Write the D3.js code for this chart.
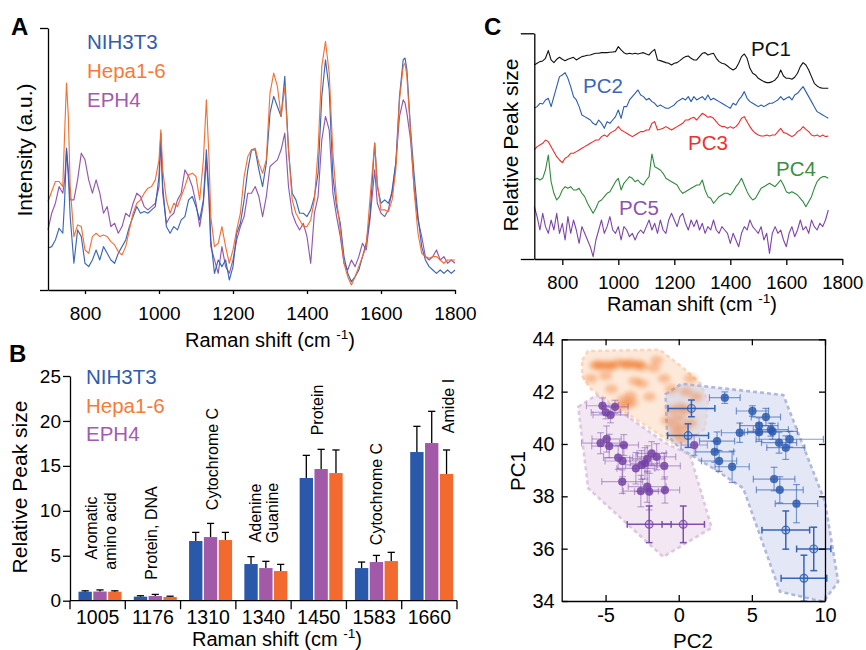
<!DOCTYPE html>
<html><head><meta charset="utf-8">
<script src="https://cdn.jsdelivr.net/npm/d3@7"></script>
<style>
body{margin:0;background:#fff;}
svg{display:block;}
</style></head><body>
<svg id="fig" width="866" height="650"></svg>
<script>
// ---------------- Panel A data (Raman spectra, a.u.) ----------------
const shiftA = [
 700,710,720,730,740,745,750,755,760,770,
 780,790,800,810,820,830,840,850,860,870,
 880,890,900,910,920,930,940,950,960,970,
 980,990,1000,1005,1010,1020,1030,1040,1050,1060,
 1070,1080,1090,1100,1110,1120,1128,1135,1140,1150,
 1160,1170,1180,1190,1200,1210,1220,1230,1240,1250,
 1260,1270,1280,1290,1300,1310,1320,1330,1340,1350,
 1360,1370,1380,1390,1400,1410,1420,1430,1440,1450,
 1460,1470,1480,1490,1500,1510,1520,1530,1540,1550,
 1560,1570,1583,1590,1600,1610,1620,1630,1640,1650,
 1660,1665,1670,1680,1690,1700,1710,1720,1730,1740,
 1750,1760,1770,1780,1790,1800];
const nih3t3A = [
 12.5,13,15,18.5,17,27,42.5,34,22,8,
 18,16,8,7,9,12,9,13,11,9,
 8,11,13,15,19,22,25,23,23.5,23,
 24,25,34,47,31,19,17,19,18,21,
 22,27,28,25,21,27,42,29,15,5,
 9,7,9,3,7,17,20,27,36,42,
 42,36,31,38,53,58,55,52,64,42,
 29,27,23,23,22,24,28,35,58,69,
 60,34,25,20,10,5,2.5,4,6,10,
 14,22,44,31,26,27,26,29,38,58,
 69,69.5,66,48,34,22,13,9,7,6,
 5,6,5,6,5,6];
const hepaA = [
 26.5,29.5,32.5,32.5,31,47,62,52,31,16,
 19.5,19,12,11,16,17,16,16.5,16,14.5,
 13.5,11.5,10.5,13,18,23,26,27,29,30.5,
 31,33,39,48,36,27,23,26,25,28,
 31,34.5,35,34,27,39,57,40,22,13,
 14,19,13,8,12,18,23,34,40,42,
 42.5,38,35,39,59,65,61,52,61,42,
 27,23,21,19,19,21,27,42,67,74.5,
 65,41,27,18,8,4,1.5,4,7,10,
 13,27,44,32,24,24,23.5,27,36,57,
 67,68,64,47,29,17,11,10,9.5,10,
 10,9,8,9,9,9];
const eph4A = [
 18,23,26,31,29,33,42,36,27,27,
 33,41,39,33,29,33,29,23,25,19,
 20,17,19,23,22,26,29,28,25,24,
 25,26,31,45,29,20,22,23,27,29,
 36,34,31,26,19,26,39,27,13,9,
 5,13,7,5,9,15,19,22,29,29,
 31,28,22,28,37,38,39,42,47,31,
 23,20,18,20,16,8,23,28,45,52,
 48,29,22,16,8,6,9,7,10,14,
 12,21,36,26,23,22,24,30,38,52,
 57,56,53,45,30,21,16,10,9,10,
 12,9,10,8,9,8];
const ticksA = [800,1000,1200,1400,1600,1800];

// ---------------- Panel B data ----------------
const peaksB = ["1005","1176","1310","1340","1450","1583","1660"];
const assignB = [["Aromatic","amino acid"],["Protein, DNA"],["Cytochrome C"],["Adenine","Guanine"],["Protein"],["Cytochrome C"],["Amide I"]];
const nih3t3B = [1.0,0.45,6.64,4.08,13.65,3.63,16.54];
const nih3t3SdB = [0.1,0.1,0.96,0.82,2.52,0.67,2.86];
const eph4B = [1.02,0.52,7.08,3.63,14.65,4.3,17.54];
const eph4SdB = [0.18,0.18,1.52,0.75,2.19,0.74,3.53];
const hepaB = [1.0,0.41,6.75,3.3,14.2,4.41,14.1];
const hepaSdB = [0.1,0.09,0.85,0.74,2.57,0.97,2.67];
const ticksB = [0,5,10,15,20,25];

// ---------------- Panel C (top) data: PC loadings ----------------
const shiftC = [
 700,710,720,730,740,750,760,770,780,790,
 800,810,820,830,840,850,860,870,880,890,
 900,910,920,930,940,950,960,970,980,990,
 1000,1010,1020,1030,1040,1050,1060,1070,1080,1090,
 1100,1110,1120,1130,1140,1150,1160,1170,1180,1190,
 1200,1210,1220,1230,1240,1250,1260,1270,1280,1290,
 1300,1310,1320,1330,1340,1350,1360,1370,1380,1390,
 1400,1410,1420,1430,1440,1450,1460,1470,1480,1490,
 1500,1510,1520,1530,1540,1550,1560,1570,1580,1590,
 1600,1610,1620,1630,1640,1650,1660,1670,1680,1690,
 1700,1710,1720,1730,1740,1750];
const pc1 = [
 58.2,58.7,59.2,59.4,60.2,62.5,59.7,58.9,59.9,60.5,
 59.9,59.5,59.9,60.2,60.5,59.7,60.2,60.7,60.9,61.1,
 61.2,61.5,61.7,61.7,61.9,61.9,61.9,62.0,62.1,62.2,
 63.7,62.7,61.9,61.5,61.7,61.5,61.7,61.5,61.7,61.9,
 61.5,61.2,62.2,62.9,59.7,59.5,59.2,58.9,58.7,58.2,
 58.7,58.9,59.5,60.2,60.7,60.9,60.2,59.7,59.7,60.7,
 61.7,61.9,61.2,61.5,61.7,60.2,59.2,58.7,58.5,57.9,
 57.2,56.7,57.2,58.7,60.7,61.5,60.2,57.2,55.7,55.2,
 54.2,53.7,53.2,52.9,52.9,53.2,53.7,54.7,56.7,54.9,
 54.2,54.2,53.9,54.5,55.7,57.7,58.9,58.2,56.7,54.7,
 52.7,51.9,51.4,51.2,51.2,51.2];
const pc2 = [
 45.2,45.7,46.7,46.5,47.7,48.2,45.7,48.7,51.7,54.7,
 55.2,55.9,54.2,51.7,48.7,47.7,45.7,43.2,42.7,42.2,
 41.7,40.7,40.2,41.7,40.7,39.2,41.2,40.7,41.7,42.7,
 44.7,42.2,45.7,45.7,47.7,48.7,49.7,50.7,49.2,48.7,
 47.7,48.2,47.2,46.7,45.7,46.2,45.7,45.2,45.2,45.7,
 46.2,47.2,47.7,48.2,47.7,48.7,47.2,48.7,47.7,48.2,
 48.7,47.7,49.2,47.7,48.2,47.7,47.2,46.7,46.2,45.7,
 45.2,46.7,46.2,47.7,48.7,50.2,48.2,47.2,46.7,46.2,
 45.7,46.2,45.7,46.2,46.7,46.7,47.2,47.7,48.7,47.7,
 48.2,48.7,47.7,49.2,49.7,50.7,51.7,50.2,48.7,47.2,
 45.7,44.2,43.7,43.2,42.7,42.2];
const pc3 = [
 32.7,33.7,34.2,34.7,35.7,35.2,33.7,32.2,30.7,29.7,
 28.9,30.2,30.7,31.7,31.7,32.2,32.7,33.2,33.7,34.2,
 34.7,35.2,35.7,35.7,36.7,37.2,36.7,37.7,38.2,38.7,
 39.7,38.7,38.2,37.7,37.2,36.7,37.2,37.7,38.2,38.2,
 38.7,38.7,40.7,41.2,38.7,38.9,39.2,39.7,39.2,38.7,
 39.2,39.7,40.2,40.7,41.7,41.7,42.2,42.5,41.7,42.7,
 43.7,43.2,42.5,42.7,42.2,41.2,40.2,39.7,39.7,39.2,
 39.7,39.2,39.7,40.7,42.2,42.7,41.2,39.7,38.5,37.7,
 37.2,36.9,36.9,37.2,36.9,37.2,37.2,38.2,39.2,37.9,
 37.7,37.2,36.7,37.2,38.2,38.7,39.7,38.9,38.2,37.2,
 36.9,37.2,36.7,37.2,36.7,36.9];
const pc4 = [
 23.7,24.2,23.7,24.2,26.7,31.2,23.2,19.7,17.7,18.7,
 20.7,21.7,21.2,21.7,20.7,20.7,21.2,19.7,18.7,16.7,
 15.2,13.7,15.2,17.2,17.7,18.7,19.7,20.2,21.7,23.2,
 24.2,20.7,22.7,23.7,24.7,24.2,23.2,23.7,22.7,22.2,
 23.7,24.7,31.5,27.7,27.2,26.7,25.7,24.2,23.7,23.2,
 22.7,22.2,20.7,19.7,20.2,20.7,21.2,21.7,22.2,22.2,
 23.7,20.7,18.7,18.2,16.7,17.7,18.7,19.2,19.7,19.7,
 19.2,20.2,21.7,22.7,24.2,22.2,20.2,18.7,17.7,18.2,
 19.7,21.2,21.7,22.2,22.7,22.2,21.7,22.7,23.7,22.2,
 20.2,19.7,20.2,19.7,19.2,18.2,17.2,15.7,17.2,18.7,
 21.2,23.2,24.2,24.7,24.7,24.2];
const pc5 = [
 15.7,12.7,8.7,13.7,9.7,7.7,11.7,8.7,13.7,7.7,
 10.7,5.7,12.7,7.7,11.7,8.7,4.7,9.7,7.7,5.7,
 3.7,0.7,5.7,8.7,11.7,7.7,9.7,12.7,8.7,7.7,
 9.7,5.7,9.7,8.7,6.7,7.7,5.7,7.7,8.7,7.7,
 9.7,11.7,8.7,10.7,7.7,11.7,8.7,7.7,11.7,13.7,
 11.7,9.7,12.7,13.7,10.7,8.7,11.7,9.7,11.7,8.7,
 10.7,7.7,9.7,8.7,11.7,8.7,7.7,9.7,8.7,7.7,
 4.7,7.7,5.7,3.7,7.7,9.7,8.7,11.7,9.7,8.7,
 7.7,9.7,5.7,7.7,1.7,7.7,9.7,7.7,8.7,5.7,
 3.7,7.7,9.7,6.7,8.7,11.7,8.7,9.7,7.7,11.7,
 9.7,8.7,10.7,9.7,11.7,14.7];
const pcNames = ["PC1","PC2","PC3","PC4","PC5"];
const ticksC = [800,1000,1200,1400,1600,1800];

// ---------------- Panel C (bottom) data: PCA scores ----------------
const nihPC2 = [3.15,0.87,5.04,5.96,5.49,4.17,5.49,6.41,6.30,6.86,7.32,7.59,2.62,0.64,2.46,2.76,3.65,6.52,6.91,8.05,7.32,9.23,8.56];
const nihPC1 = [41.77,41.36,41.26,41.03,40.70,40.43,40.45,40.48,40.55,40.05,39.86,40.18,40.11,40.32,39.70,39.35,39.13,38.66,38.25,37.72,36.71,35.99,34.87];
const nihErrPC2 = [1.05,1.6,1.1,1.0,1.3,1.25,1.0,1.7,1.2,1.2,1.3,2.3,1.2,1.4,1.3,1.2,1.17,1.42,1.6,1.45,1.63,1.17,1.56];
const nihErrPC1 = [0.22,0.32,0.2,0.33,0.3,0.37,0.35,0.3,0.25,0.4,0.45,0.3,0.35,0.45,0.4,0.4,0.6,0.45,0.5,0.73,0.73,0.83,0.88];
const nihHollow = [0,1,0,0,0,0,0,0,0,0,0,0,0,1,0,0,0,0,0,0,1,1,1];

const ephPC2 = [-5.21,-4.98,-4.66,-4.36,-5.34,-4.93,-4.75,-3.75,-4.14,-3.84,-3.86,-2.93,-2.54,-2.15,-1.85,-1.51,-2.31,-0.99,-2.59,-2.15,-2.02,-0.94,1.06,-2.02,0.31];
const ephPC1 = [41.46,41.21,41.11,41.42,40.03,40.19,39.92,39.96,39.48,39.35,38.56,39.07,39.20,39.43,39.64,39.51,39.26,39.16,38.20,38.37,38.18,38.24,39.96,36.93,36.93];
const ephErrPC2 = [1.1,1.0,1.2,0.9,1.3,1.0,1.2,1.0,1.0,1.2,1.4,1.3,1.1,1.2,1.0,1.3,1.0,1.1,1.2,1.3,1.0,1.0,0.9,1.5,1.45];
const ephErrPC1 = [0.3,0.25,0.3,0.25,0.4,0.5,0.45,0.4,0.45,0.6,0.45,0.6,0.55,0.5,0.45,0.5,0.6,0.5,0.6,0.6,0.7,0.5,0.4,0.7,0.7];
const ephHollow = [0,0,0,0,0,0,0,0,0,0,0,0,0,0,0,0,0,0,0,0,0,0,0,1,1];

const hepaPC2 = [-5.7,-5.3,-4.9,-4.5,-4.1,-3.7,-3.3,-2.9,-2.5,-5.5,-4.7,-3.5,-2.7,
 -6.0,-5.0,-3.0,-1.7,-1.0,-0.5,0.5,1.2,-2.0,-4.6,-2.5,-1.5,0.8,
 -3.8,-3.5,-3.3,-4.0,-3.2,
 -0.5,0.0,0.3,-0.2,0.5,0.2,-0.8,0.8,-0.3,0.1];
const hepaPC1 = [43.0,42.95,43.05,43.0,43.1,43.05,43.1,43.0,42.95,43.05,42.95,43.0,43.05,
 42.5,42.6,42.4,42.9,42.5,42.1,42.0,41.8,41.8,42.1,42.3,43.2,42.5,
 41.7,41.5,41.85,41.45,41.6,
 41.3,41.0,40.6,40.4,41.3,40.2,40.9,40.8,40.7,41.4];

// region outlines (PC2, PC1)
const hepaHull = [[-6.6,43.2],[-6.2,43.55],[-1.3,43.6],[0.3,42.9],[1.5,42.3],[2.0,41.6],[1.8,40.6],[0.6,40.05],[-0.5,40.05],[-2.5,40.8],[-4.5,41.5],[-6.0,42.1],[-6.6,42.6]];
const ephHull = [[-6.87,41.42],[-5.62,41.87],[-3.0,40.85],[-0.8,40.0],[0.77,39.58],[2.25,36.8],[-1.06,35.69],[-6.19,38.31]];
const nihHull = [[-0.9,41.9],[0.2,42.3],[1.8,42.2],[7.15,41.87],[8.75,39.58],[10.0,37.79],[10.9,34.74],[9.9,33.97],[6.92,34.36],[4.41,38.31],[2.36,39.07],[0.08,39.83],[-0.8,40.35]];
const ticksSx = [-5,0,5,10];
const ticksSy = [34,36,38,40,42,44];

// ---------------- drawing ----------------
const FONT = "'Liberation Sans', Arial, Helvetica, sans-serif";
const C_BLUE = "#2a58aa", C_ORANGE = "#f26a2e", C_PURPLE = "#a159a8";
const fmt = d => String(d);
const svg = d3.select("#fig").attr("font-family", FONT);

function styleAxis(g, fs) {
  g.attr("font-family", FONT).attr("font-size", fs);
  g.selectAll("path,line").attr("stroke", "#000").attr("stroke-width", 1.3);
  g.selectAll("text").attr("fill", "#000");
}
function label(g, x, y, s, fs, opt = {}) {
  const t = g.append("text").attr("x", x).attr("y", y).attr("font-size", fs)
    .attr("fill", opt.fill || "#000").attr("text-anchor", opt.anchor || "start")
    .attr("font-weight", opt.bold ? "bold" : null).text(s);
  return t;
}
function rlabel(g, x, y, s, fs) {
  return g.append("text").attr("transform", `translate(${x},${y}) rotate(-90)`)
    .attr("text-anchor", "middle").attr("font-size", fs).attr("fill", "#000").text(s);
}
function ramanTitle(g, x, y, fs) {
  const t = g.append("text").attr("x", x).attr("y", y).attr("text-anchor", "middle").attr("font-size", fs);
  t.append("tspan").text("Raman shift (cm ");
  t.append("tspan").attr("font-size", fs * 0.68).attr("dy", -fs * 0.42).text("-1");
  t.append("tspan").attr("dy", fs * 0.42).text(")");
}

// Panel letters
label(svg, 11, 35, "A", 24, {bold: true});
label(svg, 9, 362, "B", 24, {bold: true});
label(svg, 484, 35, "C", 24, {bold: true});

// ===== Panel A =====
const gA = svg.append("g");
const xA = d3.scaleLinear().domain([700, 1800]).range([48, 455]);
const yA = d3.scaleLinear().domain([0, 78.5]).range([290, 28]);
const lineA = d3.line().x((d, i) => xA(shiftA[i])).y(d => yA(d));
[[eph4A, "#8d4fa8"], [nih3t3A, "#2f5fb3"], [hepaA, "#f26a2c"]].forEach(([arr, col]) => {
  gA.append("path").datum(arr).attr("d", lineA).attr("fill", "none")
    .attr("stroke", col).attr("stroke-width", 1.15).attr("stroke-opacity", 0.95)
    .attr("stroke-linejoin", "round");
});
const axA = gA.append("g").attr("transform", "translate(0,290)")
  .call(d3.axisBottom(xA).tickValues(ticksA).tickSize(4).tickSizeOuter(0).tickPadding(13).tickFormat(fmt));
styleAxis(axA, 19);
const ayA = gA.append("g").attr("transform", "translate(48,0)")
  .call(d3.axisLeft(yA).tickValues([0, 78.5]).tickSize(8).tickSizeOuter(0).tickFormat(""));
styleAxis(ayA, 19);
ramanTitle(gA, 270, 347, 20);
rlabel(gA, 32, 150, "Intensity (a.u.)", 21);
label(gA, 87, 48.5, "NIH3T3", 20.5, {fill: "#2f5cae"});
label(gA, 87, 77.5, "Hepa1-6", 20.5, {fill: "#f47b3a"});
label(gA, 87, 106.5, "EPH4", 20.5, {fill: "#a35ab0"});

// ===== Panel B =====
const gB = svg.append("g");
const xB = d3.scaleBand().domain(peaksB).range([70, 457]).padding(0);
const seriesB = [["NIH3T3", nih3t3B, nih3t3SdB, C_BLUE], ["EPH4", eph4B, eph4SdB, C_PURPLE], ["Hepa1-6", hepaB, hepaSdB, C_ORANGE]];
const xBi = d3.scaleBand().domain(seriesB.map(s => s[0])).range([8.5, 51.5]).paddingInner(0.1);
const yB = d3.scaleLinear().domain([0, 25]).range([600.7, 376]);
seriesB.forEach(([name, vals, sds, col]) => {
  peaksB.forEach((p, i) => {
    const x0 = xB(p) + xBi(name), w = xBi.bandwidth();
    gB.append("rect").attr("x", x0).attr("y", yB(vals[i])).attr("width", w)
      .attr("height", yB(0) - yB(vals[i])).attr("fill", col);
    const cx = x0 + w / 2, yt = yB(vals[i] + sds[i]);
    gB.append("line").attr("x1", cx).attr("x2", cx).attr("y1", yB(vals[i])).attr("y2", yt)
      .attr("stroke", "#000").attr("stroke-width", 1.3);
    gB.append("line").attr("x1", cx - 3.6).attr("x2", cx + 3.6).attr("y1", yt).attr("y2", yt)
      .attr("stroke", "#000").attr("stroke-width", 1.3);
  });
});
const ayB = gB.append("g").attr("transform", "translate(70,0)")
  .call(d3.axisLeft(yB).tickValues(ticksB).tickSize(7).tickSizeOuter(0).tickPadding(2).tickFormat(fmt));
styleAxis(ayB, 19);
gB.append("line").attr("x1", xB.range()[0]).attr("x2", xB.range()[1]).attr("y1", yB(0)).attr("y2", yB(0))
  .attr("stroke", "#000").attr("stroke-width", 1.3);
peaksB.map(p => xB(p)).concat([xB.range()[1]]).forEach(x => {
  gB.append("line").attr("x1", x).attr("x2", x).attr("y1", yB(0)).attr("y2", yB(0) + 8.5)
    .attr("stroke", "#000").attr("stroke-width", 1.3);
});
peaksB.forEach(p => label(gB, xB(p) + xB.bandwidth() / 2, 623.5, p, 19.5, {anchor: "middle"}));
ramanTitle(gB, 277, 646, 20);
rlabel(gB, 26.5, 487, "Relative Peak size", 21);
label(gB, 86, 383.5, "NIH3T3", 20.5, {fill: "#2f5cae"});
label(gB, 86, 412.5, "Hepa1-6", 20.5, {fill: "#f47b3a"});
label(gB, 86, 441, "EPH4", 20.5, {fill: "#a35ab0"});
const assignPos = [[[97, 528], [115.5, 531]], [[157, 533]], [[218, 459]], [[260.5, 513], [278, 513]], [[323, 410]], [[382, 494]], [[454, 406]]];
assignB.forEach((lines, i) => lines.forEach((s, j) => rlabel(gB, assignPos[i][j][0], assignPos[i][j][1], s, 16)));

// ===== Panel C top =====
const gC = svg.append("g");
const xC = d3.scaleLinear().domain([700, 1800]).range([534.3, 842.3]);
const yC = d3.scaleLinear().domain([0, 67.7]).range([259, 33.3]);
const lineC = d3.line().x((d, i) => xC(shiftC[i])).y(d => yC(d));
const pcCols = ["#111111", "#2a5cb0", "#ee2b2b", "#2f8a3c", "#7d45a8"];
[pc1, pc2, pc3, pc4, pc5].forEach((arr, k) => {
  gC.append("path").datum(arr).attr("d", lineC).attr("fill", "none")
    .attr("stroke", pcCols[k]).attr("stroke-width", 1.1).attr("stroke-linejoin", "round");
});
const axC = gC.append("g").attr("transform", "translate(0,259)")
  .call(d3.axisBottom(xC).tickValues(ticksC).tickSize(6).tickSizeOuter(0).tickPadding(11).tickFormat(fmt));
styleAxis(axC, 18.5);
const ayC = gC.append("g").attr("transform", "translate(534.3,0)")
  .call(d3.axisLeft(yC).tickValues([0, 67.7]).tickSize(13.5).tickSizeOuter(0).tickFormat(""));
styleAxis(ayC, 18);
ramanTitle(gC, 692, 311, 20);
rlabel(gC, 518, 145, "Relative Peak size", 21);
const pcLabelPos = [[751, 56], [583, 93], [688, 149.5], [776, 176], [619, 215]];
const pcLabelCols = ["#111111", "#3a66b8", "#ee3030", "#3a9040", "#8a55b0"];
pcNames.forEach((n, k) => label(gC, pcLabelPos[k][0], pcLabelPos[k][1], n, 20.5, {fill: pcLabelCols[k]}));

// ===== Panel C bottom: score plot =====
const gS = svg.append("g");
const xS = d3.scaleLinear().domain([-8, 10]).range([561.7, 825]);
const yS = d3.scaleLinear().domain([34, 44]).range([601, 339.3]);
const defs = svg.append("defs");
defs.append("filter").attr("id", "blurO").attr("x", "-100%").attr("y", "-100%").attr("width", "300%").attr("height", "300%")
  .append("feGaussianBlur").attr("stdDeviation", 2.2);
const hullPath = pts => "M" + pts.map(p => `${xS(p[0])},${yS(p[1])}`).join("L") + "Z";
gS.append("path").attr("d", hullPath(hepaHull)).attr("fill", "#fde5d4").attr("fill-opacity", 0.85)
  .attr("stroke", "#fbd5bd").attr("stroke-width", 2.6).attr("stroke-dasharray", "4,3");
gS.append("path").attr("d", hullPath(ephHull)).attr("fill", "#f1e4f1").attr("fill-opacity", 0.9)
  .attr("stroke", "#dfc7e1").attr("stroke-width", 2.6).attr("stroke-dasharray", "4,3");
gS.append("path").attr("d", hullPath(nihHull)).attr("fill", "#cdd4ee").attr("fill-opacity", 0.55)
  .attr("stroke", "#b0b8dc").attr("stroke-width", 2.6).attr("stroke-dasharray", "4,3");
const gO = gS.append("g").attr("filter", "url(#blurO)");
hepaPC2.forEach((x, i) => {
  gO.append("ellipse").attr("cx", xS(x)).attr("cy", yS(hepaPC1[i])).attr("rx", 6.5).attr("ry", 4.5)
    .attr("fill", "#f07a2c").attr("fill-opacity", 0.42);
});
function drawGroup(px, py, ex, ey, hollow, col, fillCol, hollowFill, errOp) {
  px.forEach((x, i) => {
    const cx = xS(x), cy = yS(py[i]);
    const x1 = xS(x - ex[i]), x2 = xS(x + ex[i]), y1 = yS(py[i] - ey[i]), y2 = yS(py[i] + ey[i]);
    const g = gS.append("g").attr("stroke", col).attr("stroke-width", hollow[i] ? 1.5 : 1.2)
      .attr("stroke-opacity", hollow[i] ? 0.95 : errOp);
    g.append("line").attr("x1", x1).attr("x2", x2).attr("y1", cy).attr("y2", cy);
    g.append("line").attr("x1", x1).attr("x2", x1).attr("y1", cy - 3.4).attr("y2", cy + 3.4);
    g.append("line").attr("x1", x2).attr("x2", x2).attr("y1", cy - 3.4).attr("y2", cy + 3.4);
    g.append("line").attr("x1", cx).attr("x2", cx).attr("y1", y1).attr("y2", y2);
    g.append("line").attr("x1", cx - 3.4).attr("x2", cx + 3.4).attr("y1", y1).attr("y2", y1);
    g.append("line").attr("x1", cx - 3.4).attr("x2", cx + 3.4).attr("y1", y2).attr("y2", y2);
  });
  px.forEach((x, i) => {
    gS.append("circle").attr("cx", xS(x)).attr("cy", yS(py[i])).attr("r", 3.9)
      .attr("fill", hollow[i] ? hollowFill : fillCol).attr("fill-opacity", hollow[i] ? 0.55 : 0.82)
      .attr("stroke", col).attr("stroke-width", hollow[i] ? 1.2 : 0.6).attr("stroke-opacity", 0.9);
  });
  px.forEach((x, i) => {
    if (!hollow[i]) return;
    const cx = xS(x), cy = yS(py[i]);
    gS.append("line").attr("x1", cx - 3.9).attr("x2", cx + 3.9).attr("y1", cy).attr("y2", cy).attr("stroke", col).attr("stroke-width", 1.2);
    gS.append("line").attr("x1", cx).attr("x2", cx).attr("y1", cy - 3.9).attr("y2", cy + 3.9).attr("stroke", col).attr("stroke-width", 1.2);
  });
}
drawGroup(ephPC2, ephPC1, ephErrPC2, ephErrPC1, ephHollow, "#7a48a8", "#7240a3", "#c8a8d8", 0.45);
drawGroup(nihPC2, nihPC1, nihErrPC2, nihErrPC1, nihHollow, "#2c5eb3", "#2a58ac", "#9fb4de", 0.6);
const asB = gS.append("g").attr("transform", "translate(0,601)")
  .call(d3.axisBottom(xS).tickValues(ticksSx).tickSize(-6).tickSizeOuter(0).tickPadding(7).tickFormat(fmt));
styleAxis(asB, 20);
const asT = gS.append("g").attr("transform", "translate(0,339.3)")
  .call(d3.axisTop(xS).tickValues(ticksSx).tickSize(-6).tickSizeOuter(0).tickFormat(""));
styleAxis(asT, 20);
const asL = gS.append("g").attr("transform", "translate(561.7,0)")
  .call(d3.axisLeft(yS).tickValues(ticksSy).tickSize(-6).tickSizeOuter(0).tickPadding(7).tickFormat(fmt));
styleAxis(asL, 20);
const asR = gS.append("g").attr("transform", "translate(825,0)")
  .call(d3.axisRight(yS).tickValues(ticksSy).tickSize(-6).tickSizeOuter(0).tickFormat(""));
styleAxis(asR, 20);
label(gS, 693, 647.5, "PC2", 20.5, {anchor: "middle"});
rlabel(gS, 525, 471, "PC1", 20.5);
</script>
</body></html>
